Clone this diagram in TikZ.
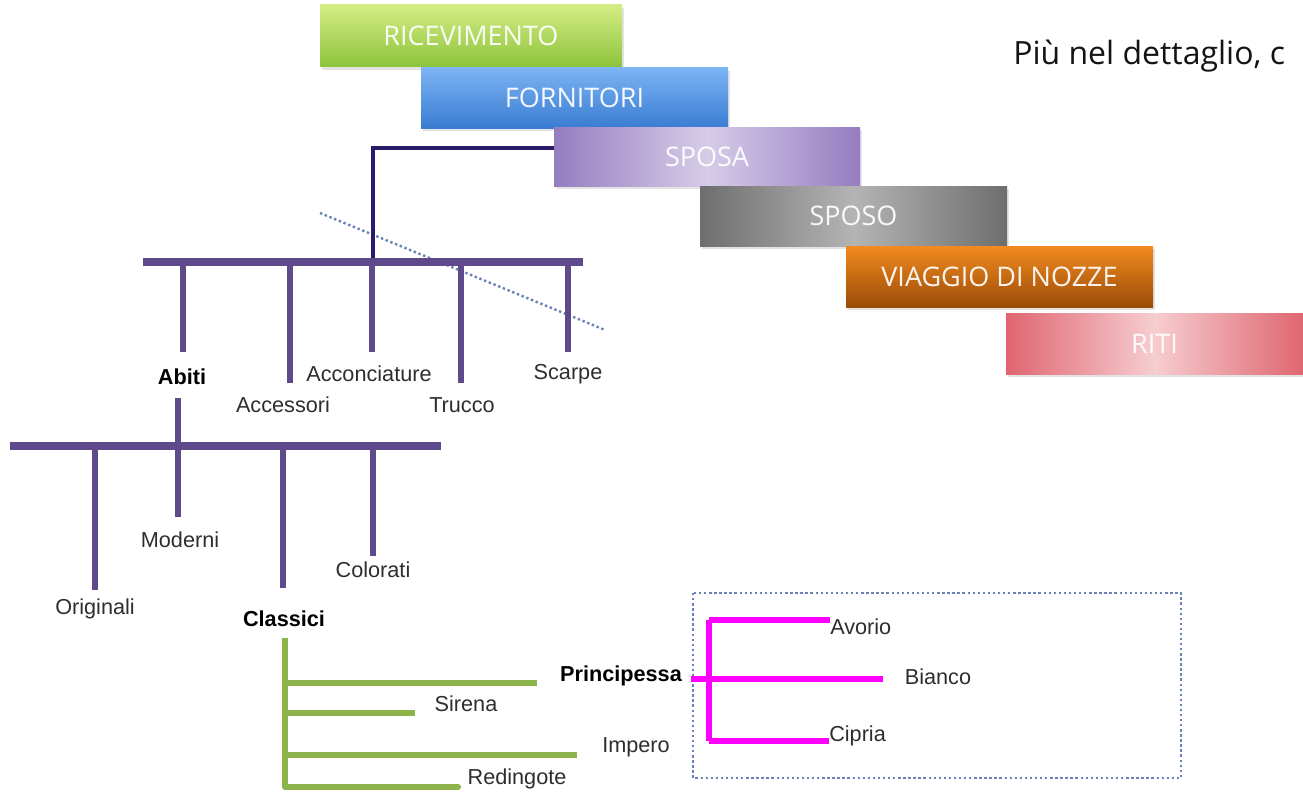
\documentclass[tikz,border=0pt]{standalone}
\usepackage{fontspec}
\setmainfont{Liberation Sans}
\newfontfamily\bannerfont{Open Sans}
\newfontfamily\headfont{Open Sans}
\usetikzlibrary{calc,shadows}
\definecolor{barpurple}{HTML}{5E4A8B}
\definecolor{navyline}{HTML}{2B1B6B}
\definecolor{greenline}{HTML}{8DB44B}
\definecolor{magline}{HTML}{FF00FF}
\definecolor{dotblue}{HTML}{6A82B8}
\definecolor{labgray}{HTML}{2E2E2E}
\definecolor{gA}{HTML}{D4EC84}
\definecolor{gB}{HTML}{8CC43C}
\definecolor{bA}{HTML}{7CB4F4}
\definecolor{bB}{HTML}{3A7CD2}
\definecolor{pA}{HTML}{957DC0}
\definecolor{pB}{HTML}{D6CCE8}
\definecolor{sA}{HTML}{6E6E6E}
\definecolor{sB}{HTML}{B4B4B4}
\definecolor{oA}{HTML}{F28A1E}
\definecolor{oB}{HTML}{9A4C08}
\definecolor{rA}{HTML}{DF6670}
\definecolor{rB}{HTML}{F6CDD0}
\begin{document}
\begin{tikzpicture}[x=0.75pt,y=-0.75pt,
  banner/.style={inner sep=0pt, text=white, text opacity=0.93, font=\bannerfont\fontsize{20.25}{24}\selectfont,
    drop shadow={opacity=0.22, shadow xshift=1.5pt, shadow yshift=-2.5pt}},
  lab/.style={inner sep=1pt, text=labgray, font=\fontsize{16.25}{19}\selectfont},
  blab/.style={lab, text=black, font=\bfseries\fontsize{16.25}{19}\selectfont},
  pbar/.style={draw=barpurple, line width=6.5pt},
  pdrop/.style={draw=barpurple, line width=4.5pt},
  gline/.style={draw=greenline, line width=4.5pt},
  mline/.style={draw=magline, line width=4.8pt},
  navy/.style={draw=navyline, line width=3pt},
  dotl/.style={draw=dotblue, line width=1.8pt, dotted}
]
\useasboundingbox (0,0) rectangle (1303,792);
\fill[white] (0,0) rectangle (1303,792);

% banners
\node[banner, minimum width=226.5pt, minimum height=46.5pt, top color=gA, bottom color=gB] (ric) at (471,36) {RICEVIMENTO};
\node[banner, minimum width=230.25pt, minimum height=45pt, top color=bA, bottom color=bB] (forn) at (574.5,98) {FORNITORI};
\node[banner, minimum width=229.5pt, minimum height=44.25pt, left color=pA, right color=pA, middle color=pB] (sposa) at (707,156.5) {SPOSA};
\node[banner, minimum width=230.25pt, minimum height=45pt, left color=sA, right color=sA, middle color=sB] (sposo) at (853.5,216) {SPOSO};
\node[banner, minimum width=230.25pt, minimum height=45.75pt, top color=oA, bottom color=oB] (viaggio) at (999.5,276.5) {VIAGGIO DI NOZZE};
\node[banner, minimum width=222.75pt, minimum height=45.75pt, left color=rA, right color=rA, middle color=rB] (riti) at (1154.5,343.5) {RITI};

% heading text
\node[anchor=west, inner sep=0pt, text=black!92, font=\headfont\fontsize{24}{28}\selectfont] (head) at (1013,56) {Più nel dettaglio, c};

% dotted diagonal
\coordinate (dg1) at (320,213);
\coordinate (dg2) at (605,330);
\draw[dotl] (dg1) -- (dg2);

% top bar
\coordinate (b1L) at (143,262);
\coordinate (b1R) at (583,262);
\coordinate (b1J) at (373,262);
\draw[navy] ($(sposa.west)+(0,-9)$) -| (b1J);
\draw[pbar] (b1L) -- (b1R);

\node[blab] (abiti) at (182,377) {Abiti};
\node[lab] (accon) at (369,374) {Acconciature};
\node[lab] (scarpe) at (568,374) {Scarpe};
\node[lab] (access) at (283,405) {Accessori};
\node[lab] (trucco) at (462,405) {Trucco};

\coordinate (e1) at (183,352);
\coordinate (e2) at (290,383);
\coordinate (e3) at (372,352);
\coordinate (e4) at (461,383);
\coordinate (e5) at (568,352);
\foreach \e in {e1,e2,e3,e4,e5} \draw[pdrop] (\e |- b1L) -- (\e);

% second bar
\coordinate (b2L) at (10,446);
\coordinate (b2R) at (441,446);
\coordinate (ab1) at (178,398);
\draw[pbar] (b2L) -- (b2R);
\draw[pdrop] (ab1) -- (ab1 |- b2L);

\node[lab] (orig) at (95,609) {Originali};
\node[lab] (mod) at (180,540) {Moderni};
\node[blab] (class) at (284,619) {Classici};
\node[lab] (color) at (373,570) {Colorati};

\coordinate (f1) at (95,590);
\coordinate (f2) at (178,517);
\coordinate (f3) at (283,588);
\coordinate (f4) at (373,556);
\draw[pdrop] (f1 |- b2L) -- (f1);
\draw[pdrop] (f2 |- b2L) -- (f2);
\draw[pdrop] (f3 |- b2L) -- (f3);
\draw[pdrop] (f4 |- b2L) -- (f4);

% green tree
\node[blab] (princ) at (621,676) {Principessa};
\node[lab] (sirena) at (466,704) {Sirena};
\node[lab] (impero) at (636,747) {Impero};
\node[lab] (reding) at (517,779) {Redingote};

\coordinate (gT) at (285,638);
\coordinate (gB) at (285,787);
\coordinate (h1) at (537,683);
\coordinate (h2) at (415,713);
\coordinate (h3) at (577,755);
\coordinate (h4) at (458,787);
\draw[gline] (gT) -- (gB);
\draw[gline] (gT |- h1) -- (h1);
\draw[gline] (gT |- h2) -- (h2);
\draw[gline] (gT |- h3) -- (h3);
\draw[gline, line cap=round] (gB) -- (h4);

% dotted box
\coordinate (bx1) at (693,593);
\coordinate (bx2) at (1181,778);
\draw[dotl] (bx1) rectangle (bx2);

% magenta E
\node[lab, anchor=west, inner sep=0pt] (avorio) at (830,627) {Avorio};
\node[lab] (bianco) at (938,677) {Bianco};
\node[lab, anchor=west, inner sep=0pt] (cipria) at (829,736) {Cipria};

\coordinate (mT) at (709,620);
\coordinate (mB) at (709,741);
\coordinate (mM) at (883,679);
\draw[mline] (mT) -- (mB);
\draw[mline] (mT) -- (mT -| avorio.west);
\draw[mline] (mB) -- (mB -| cipria.west);
\draw[mline] (princ.east |- mM) ++(8,0) -- (mM);
\end{tikzpicture}
\end{document}
